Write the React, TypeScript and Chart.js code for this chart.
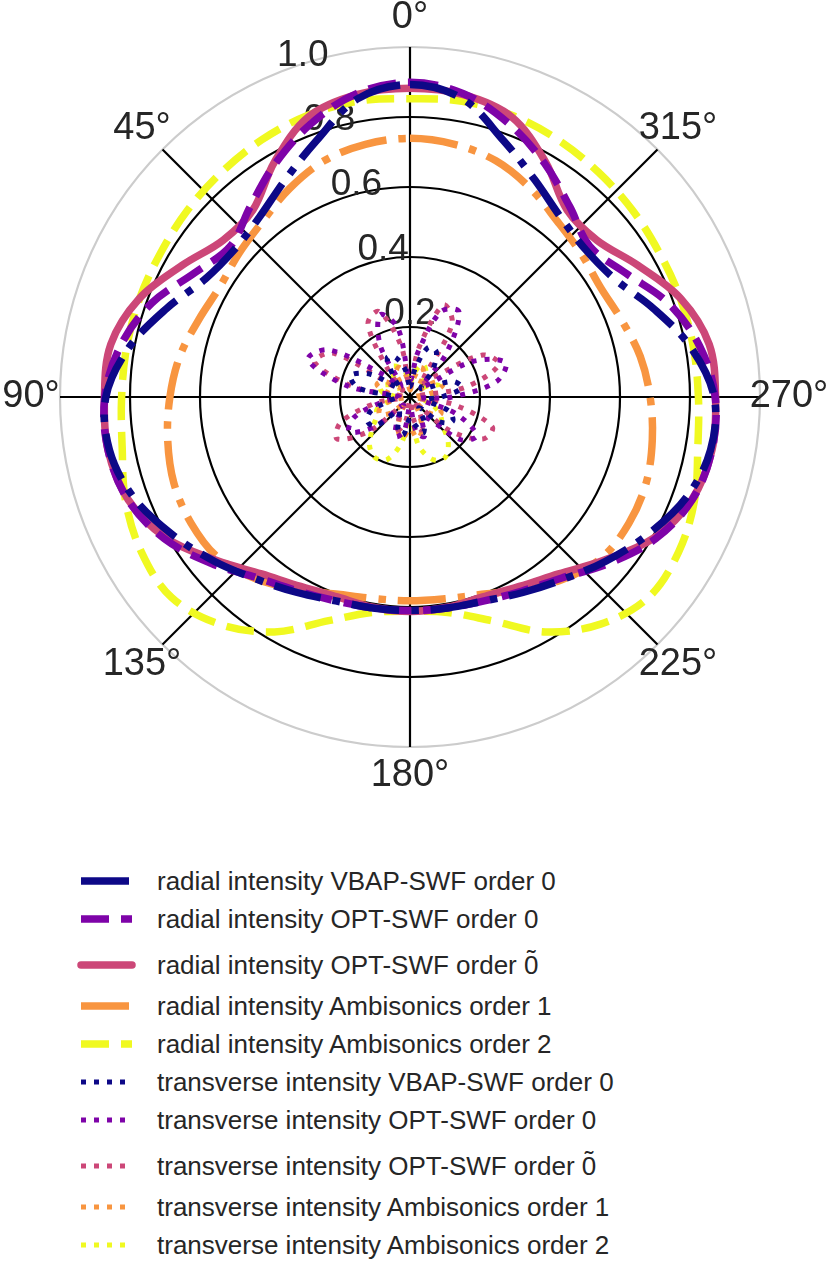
import { useEffect, useRef } from 'react'
import { Chart, registerables } from 'chart.js'

Chart.register(...registerables)

const FONT = "'Liberation Sans', Arial, Helvetica, sans-serif"
const TEXT = '#262626'

// angles in degrees, counter-clockwise from the top (0° = front)
const THETA = [
  0, 10, 20, 30, 40, 50, 60, 70, 80, 90, 100, 110, 120, 130, 140, 150, 160, 170,
  180, 190, 200, 210, 220, 230, 240, 250, 260, 270, 280, 290, 300, 310, 320, 330, 340, 350,
]

const R_TICKS = [0.2, 0.4, 0.6, 0.8, 1.0]
const RLABEL_DEG = 22.5

// radial intensity
const radialVbap = [
  0.893, 0.865, 0.78, 0.715, 0.67, 0.655, 0.675, 0.74, 0.815, 0.869, 0.872, 0.84, 0.785, 0.73, 0.68, 0.645, 0.62, 0.612,
  0.61, 0.612, 0.62, 0.645, 0.68, 0.73, 0.785, 0.84, 0.872, 0.869, 0.815, 0.74, 0.675, 0.655, 0.67, 0.715, 0.78, 0.865,
]
const radialOpt = [
  0.899, 0.88, 0.83, 0.77, 0.71, 0.67, 0.71, 0.785, 0.84, 0.872, 0.876, 0.858, 0.81, 0.74, 0.675, 0.64, 0.62, 0.612,
  0.61, 0.612, 0.62, 0.64, 0.675, 0.74, 0.81, 0.858, 0.876, 0.872, 0.84, 0.785, 0.71, 0.67, 0.71, 0.77, 0.83, 0.88,
]
const radialOptTilde = [
  0.882, 0.877, 0.851, 0.775, 0.698, 0.697, 0.752, 0.823, 0.868, 0.873, 0.876, 0.857, 0.805, 0.725, 0.66, 0.625, 0.608, 0.61,
  0.613, 0.61, 0.608, 0.625, 0.66, 0.725, 0.805, 0.857, 0.876, 0.873, 0.868, 0.823, 0.752, 0.697, 0.698, 0.775, 0.851, 0.877,
]
const radialAmbi1 = [
  0.739, 0.733, 0.718, 0.688, 0.655, 0.638, 0.628, 0.643, 0.668, 0.686, 0.703, 0.718, 0.722, 0.715, 0.68, 0.635, 0.6, 0.585,
  0.582, 0.585, 0.6, 0.635, 0.68, 0.715, 0.722, 0.718, 0.703, 0.686, 0.668, 0.643, 0.628, 0.638, 0.655, 0.688, 0.718, 0.733,
]
const radialAmbi2 = [
  0.852, 0.858, 0.856, 0.848, 0.838, 0.83, 0.823, 0.822, 0.822, 0.824, 0.835, 0.865, 0.886, 0.89, 0.847, 0.775, 0.68, 0.625,
  0.612, 0.625, 0.68, 0.775, 0.847, 0.89, 0.886, 0.865, 0.835, 0.824, 0.822, 0.822, 0.823, 0.83, 0.838, 0.848, 0.856, 0.858,
]

// transverse intensity
const transVbap = [
  0.03, 0.08, 0.12, 0.13, 0.07, 0.04, 0.13, 0.18, 0.15, 0.04, 0.06, 0.12, 0.14, 0.13, 0.05, 0.06, 0.1, 0.11,
  0.06, 0.08, 0.11, 0.08, 0.04, 0.11, 0.14, 0.12, 0.05, 0.09, 0.15, 0.13, 0.05, 0.04, 0.1, 0.15, 0.15, 0.08,
]
const transOpt = [
  0.05, 0.2, 0.25, 0.17, 0.04, 0.1, 0.27, 0.31, 0.18, 0.03, 0.08, 0.17, 0.2, 0.13, 0.03, 0.07, 0.12, 0.1,
  0.03, 0.1, 0.12, 0.07, 0.08, 0.19, 0.22, 0.14, 0.03, 0.12, 0.25, 0.29, 0.2, 0.05, 0.16, 0.28, 0.26, 0.13,
]
const transOptTilde = [
  0.03, 0.15, 0.26, 0.24, 0.09, 0.03, 0.25, 0.29, 0.16, 0.02, 0.1, 0.21, 0.24, 0.15, 0.03, 0.06, 0.1, 0.07,
  0.01, 0.07, 0.1, 0.06, 0.03, 0.15, 0.24, 0.25, 0.13, 0.02, 0.16, 0.27, 0.24, 0.09, 0.05, 0.24, 0.28, 0.14,
]
const transAmbi1 = [
  0.02, 0.06, 0.09, 0.08, 0.03, 0.05, 0.09, 0.1, 0.06, 0.01, 0.05, 0.09, 0.1, 0.07, 0.02, 0.05, 0.1, 0.12,
  0.09, 0.12, 0.1, 0.05, 0.02, 0.07, 0.1, 0.09, 0.05, 0.01, 0.06, 0.1, 0.09, 0.03, 0.04, 0.08, 0.09, 0.05,
]
const transAmbi2 = [
  0.04, 0.07, 0.09, 0.1, 0.07, 0.04, 0.07, 0.09, 0.08, 0.04, 0.06, 0.1, 0.11, 0.14, 0.18, 0.2, 0.19, 0.13,
  0.05, 0.14, 0.19, 0.2, 0.17, 0.12, 0.1, 0.07, 0.04, 0.05, 0.08, 0.09, 0.07, 0.04, 0.06, 0.09, 0.1, 0.07,
]

const NAVY = '#0d0887'
const PURPLE = '#7e03a8'
const PINK = '#cc4778'
const ORANGE = '#f89540'
const YELLOW = '#f0f921'

const LW = 7.5
const DASHDOT = [48, 12, 7.5, 12]
const DASHED = [28, 12]
const DOTTED = [5, 8]

const TILDE_ZERO = '0\u0303'

type SeriesT = {
  label: string
  data: number[]
  color: string
  dash: number[]
  width: number
  cap: 'butt' | 'round'
}

const SERIES: SeriesT[] = [
  { label: 'radial intensity VBAP-SWF order 0', data: radialVbap, color: NAVY, dash: DASHDOT, width: LW, cap: 'butt' },
  { label: 'radial intensity OPT-SWF order 0', data: radialOpt, color: PURPLE, dash: DASHED, width: LW, cap: 'butt' },
  { label: 'radial intensity OPT-SWF order ' + TILDE_ZERO, data: radialOptTilde, color: PINK, dash: [], width: LW, cap: 'round' },
  { label: 'radial intensity Ambisonics order 1', data: radialAmbi1, color: ORANGE, dash: DASHDOT, width: LW, cap: 'butt' },
  { label: 'radial intensity Ambisonics order 2', data: radialAmbi2, color: YELLOW, dash: DASHED, width: LW, cap: 'butt' },
  { label: 'transverse intensity VBAP-SWF order 0', data: transVbap, color: NAVY, dash: DOTTED, width: 5, cap: 'butt' },
  { label: 'transverse intensity OPT-SWF order 0', data: transOpt, color: PURPLE, dash: DOTTED, width: 5, cap: 'butt' },
  { label: 'transverse intensity OPT-SWF order ' + TILDE_ZERO, data: transOptTilde, color: PINK, dash: DOTTED, width: 5, cap: 'butt' },
  { label: 'transverse intensity Ambisonics order 1', data: transAmbi1, color: ORANGE, dash: DOTTED, width: 5, cap: 'butt' },
  { label: 'transverse intensity Ambisonics order 2', data: transAmbi2, color: YELLOW, dash: DOTTED, width: 5, cap: 'butt' },
]

// radar goes clockwise, the plot goes counter-clockwise: slot k sits at angle 360 - 5k
const SLOT_STEP = 5
const SLOTS = Array.from({ length: 360 / SLOT_STEP }, (_, k) => (360 - k * SLOT_STEP) % 360)
const toSlots = (vals: number[]) =>
  SLOTS.map((a) => {
    const i = THETA.indexOf(a)
    return i >= 0 ? vals[i] : null
  })

const polarText = {
  id: 'polarText',
  beforeDatasetsDraw(chart: any) {
    const scale = chart.scales.r
    const ctx = chart.ctx
    ctx.save()
    ctx.font = `37px ${FONT}`
    ctx.fillStyle = TEXT

    // radius labels along the 22.5° ray
    const a = (RLABEL_DEG * Math.PI) / 180
    ctx.textAlign = 'left'
    ctx.textBaseline = 'alphabetic'
    R_TICKS.forEach((v) => {
      const d = scale.getDistanceFromCenterForValue(v)
      const x = scale.xCenter - d * Math.sin(a)
      const y = scale.yCenter - d * Math.cos(a)
      ctx.fillText(v.toFixed(1), x + 1, y - 8)
    })

    // angle labels every 45°
    ctx.font = `38px ${FONT}`
    ctx.textAlign = 'center'
    ctx.textBaseline = 'middle'
    SLOTS.forEach((deg, k) => {
      if (deg % 45 !== 0) return
      const p = scale.getPointPosition(k, scale.drawingArea + 29)
      ctx.fillText(`${deg}°`, p.x, p.y)
    })
    ctx.restore()
  },
}

// "0" with a tilde set on top, as mathtext draws it
const LegendText = ({ text }: { text: string }) => {
  if (!text.endsWith(TILDE_ZERO)) return <span style={{ whiteSpace: 'nowrap' }}>{text}</span>
  return (
    <span style={{ whiteSpace: 'nowrap' }}>
      {text.slice(0, -TILDE_ZERO.length)}
      <span style={{ position: 'relative', display: 'inline-block' }}>
        0
        <span style={{ position: 'absolute', left: 0, width: '100%', top: '-0.2em', textAlign: 'center' }}>
          {'\u02dc'}
        </span>
      </span>
    </span>
  )
}

const LegendRow = ({ s }: { s: SeriesT }) => {
  const tilde = s.label.endsWith(TILDE_ZERO)
  return (
    <div
      style={{
        display: 'flex',
        alignItems: 'center',
        height: 38,
        marginTop: tilde ? 8 : 0,
        marginBottom: tilde ? 3 : 0,
      }}
    >
      <svg width={87} height={38} style={{ flex: 'none' }}>
        <line
          x1={11}
          x2={62}
          y1={19}
          y2={19}
          stroke={s.color}
          strokeWidth={s.width}
          strokeDasharray={s.dash.length ? s.dash.join(' ') : undefined}
          strokeLinecap={s.cap}
        />
      </svg>
      <LegendText text={s.label} />
    </div>
  )
}

const App = () => {
  const canvasRef = useRef<HTMLCanvasElement>(null)

  useEffect(() => {
    document.body.style.margin = '0'

    const chart = new Chart(canvasRef.current!, {
      type: 'radar',
      data: {
        labels: SLOTS.map((a) => `${a}°`),
        datasets: SERIES.map((s) => ({
          label: s.label,
          data: toSlots(s.data) as any,
          borderColor: s.color,
          backgroundColor: s.color,
          borderWidth: s.width,
          borderDash: s.dash,
          borderCapStyle: s.cap,
          borderJoinStyle: 'round' as const,
          fill: false,
          spanGaps: true,
          tension: 0.35,
          pointRadius: 0,
          pointHoverRadius: 0,
        })),
      },
      options: {
        responsive: false,
        animation: false,
        events: [],
        layout: { padding: { left: 60, right: 70, top: 47, bottom: 63 } },
        plugins: {
          legend: { display: false },
          tooltip: { enabled: false },
        },
        scales: {
          r: {
            min: 0,
            max: 1,
            ticks: { display: false, stepSize: 0.2 },
            pointLabels: { display: false },
            grid: {
              circular: true,
              lineWidth: 2.2,
              color: (ctx: any) => (ctx.tick && ctx.tick.value > 0.99 ? '#cccccc' : '#000000'),
            },
            angleLines: {
              color: '#000000',
              lineWidth: (ctx: any) => (SLOTS[ctx.index] % 45 === 0 ? 2.2 : 0),
            },
          },
        },
      },
      plugins: [polarText],
    })

    // Clean up
    return () => chart.destroy()
  }, [])

  return (
    <div style={{ width: 830, fontFamily: FONT, color: TEXT, fontSize: 26 }}>
      <canvas ref={canvasRef} width={830} height={810} style={{ display: 'block' }} />
      <div style={{ marginTop: 52, paddingLeft: 70 }}>
        {SERIES.map((s) => (
          <LegendRow key={s.label} s={s} />
        ))}
      </div>
    </div>
  )
}

export default App
